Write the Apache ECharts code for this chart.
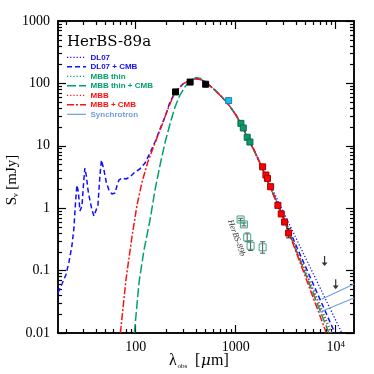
<!DOCTYPE html>
<html><head><meta charset="utf-8">
<script src="https://cdn.jsdelivr.net/npm/echarts@6/dist/echarts.min.js"></script>
<style>html,body{margin:0;padding:0;background:#fff}#c{width:374px;height:374px}</style>
</head><body><div id="c"></div>
<script>
// ---- axis ranges (data units) ----
const xRange = [16.7, 15240];   // wavelength, micron
const yRange = [0.01, 1000];    // flux, mJy
const xMajorTicks = [100, 1000, 10000];
const xMinorTicks = [20,30,40,50,60,70,80,90,200,300,400,500,600,700,800,900,2000,3000,4000,5000,6000,7000,8000,9000];
const yMajorTicks = [0.01, 0.1, 1, 10, 100, 1000];
const yMinorTicks = [0.02,0.03,0.04,0.05,0.06,0.07,0.08,0.09,0.2,0.3,0.4,0.5,0.6,0.7,0.8,0.9,2,3,4,5,6,7,8,9,20,30,40,50,60,70,80,90,200,300,400,500,600,700,800,900];

// ---- model curves [lambda_um, S_mJy] ----
const wienDL07CMB = [[16.7,0.0438],[18.3,0.061],[20.0,0.085],[21.5,0.137],[23.0,0.248],[24.1,0.48],[24.9,1.12],[25.8,2.35],[26.7,1.82],[27.7,0.90],[29.0,1.08],[30.0,2.35],[31.0,4.4],[32.1,3.3],[33.3,1.96],[34.8,1.35],[36.5,0.94],[38.2,0.75],[40.0,0.72],[41.9,1.12],[43.9,3.4],[45.4,5.9],[48.1,4.1],[50.9,2.54],[54.0,1.96],[57.8,1.69],[61.9,1.75],[64.9,2.27],[67.9,2.83],[72.8,3.05],[79.8,2.94],[87.5,3.16],[98.2,3.8],[110,4.25],[124,5.3],[139,7.7],[156,11.5],[175,18.6],[196,29],[220,50],[252,75.5],[297,98],[348,113],[400,120],[459,113]];
const wienMBBCMB = [[70.3,0.01],[79.8,0.0706],[91.6,0.345],[103,1.12],[115,2.54],[132,5.5],[156,11.1],[183,21.5],[210,38.9],[235,60.5],[252,74],[297,98],[348,113],[400,120],[459,113]];
const wienMBBthinCMB = [[97,0.01],[108,0.0656],[121,0.214],[139,0.647],[156,1.96],[175,4.9],[196,11.1],[220,22.3],[247,41.9],[277,65],[310,87.5],[348,109],[400,124],[459,118]];
const peakCurve = [[527,98],[619,78],[728,60.5],[855,45],[1005,31.2],[1153,20.8],[1324,13.3],[1520,8.6],[1746,5.3],[2004,3.16],[2301,1.89],[2642,1.12],[3105,0.60]];
const tailDL07 = [[2004,3.3],[11530,0.01]];
const tailDL07CMB = [[9820,0.01]];
const tailMBBthin = [[9160,0.01]];
const tailMBBthinCMB = [[8550,0.01]];
const tailMBB = [[8900,0.01]];
const tailMBBCMB = [[8070,0.01]];
const synchA = [[7230,0.0347],[15240,0.061]];
const synchB = [[6680,0.0211],[15240,0.0364]];

// ---- photometry ----
const ptsSPIRE = [[250,73],[350,105],[500,97]];
const ptsSCUBA = [[850,53]];
const ptsNOEMA1 = [[1127,22.9],[1190,19.3],[1303,13.7],[1387,11.5]];
const ptsNOEMA2 = [[1858,4.6],[2005,3.4],[2080,3.0],[2234,2.21],[2642,1.11],[2852,0.81],[3080,0.60],[3381,0.40]];
const errNOEMA2 = [[3381,0.335,0.475]];
const ptsB = [[1119,0.66],[1208,0.55],[1303,0.34],[1409,0.25],[1858,0.236]];
const errB = [[1119,0.63,0.69],[1208,0.52,0.58],[1303,0.29,0.40],[1409,0.21,0.30],[1858,0.19,0.29]];
const upperLimits = [[7740,0.171],[10000,0.073]];

// ---- legend entries ----
const legendNames = ['DL07','DL07 + CMB','MBB thin','MBB thin + CMB','MBB','MBB + CMB','Synchrotron'];

const L = Math.log10;
const tr = a => a.map(p => [L(p[0]), L(p[1])]);
const trE = a => a.map(p => [L(p[0]), L(p[1]), L(p[2])]);
const sliceFrom = (lam) => peakCurve.filter(p => p[0] >= lam);

const BLUE = '#1010ff', GREEN = '#00a070', RED = '#ff1010', SYN = '#6f9fdc';
const styles = {
  'DL07': {color:BLUE, dash:[1.2,2], w:1.3},
  'DL07 + CMB': {color:BLUE, dash:[5,3], w:1.5},
  'MBB thin': {color:GREEN, dash:[1.2,2], w:1.3},
  'MBB thin + CMB': {color:GREEN, dash:[9,3], w:1.5},
  'MBB': {color:RED, dash:[1.2,2], w:1.3},
  'MBB + CMB': {color:RED, dash:[7,2,2,2], w:1.5},
  'Synchrotron': {color:SYN, dash:null, w:1.2}
};

const chart = echarts.init(document.getElementById('c'), null, {renderer:'canvas'});

function mkX(pos, major, showLabel) {
  return {
    type:'value', position:pos, min:L(xRange[0]), max:L(xRange[1]),
    axisLine:{show:true, onZero:false, lineStyle:{color:'#000', width:1.5}},
    splitLine:{show:false},
    axisTick:{show:true, inside:true, length: major?8:4, lineStyle:{color:'#000', width:1.2},
      customValues:(major?xMajorTicks:xMinorTicks).map(L)},
    axisLabel:{show:showLabel, customValues:xMajorTicks.map(L), margin:7, color:'#000',
      fontFamily:'Liberation Serif', fontSize:14,
      formatter: v => { const e = Math.round(v); return e >= 4 ? '10{sup|' + e + '}' : String(Math.pow(10,e)); },
      rich:{sup:{fontSize:9, verticalAlign:'top', padding:[0,0,6,0], fontFamily:'Liberation Serif', color:'#000'}}},
  };
}
function mkY(pos, major, showLabel) {
  return {
    type:'value', position:pos, min:L(yRange[0]), max:L(yRange[1]),
    axisLine:{show:true, onZero:false, lineStyle:{color:'#000', width:1.5}},
    splitLine:{show:false},
    axisTick:{show:true, inside:true, length: major?8:4, lineStyle:{color:'#000', width:1.2},
      customValues:(major?yMajorTicks:yMinorTicks).map(L)},
    axisLabel:{show:showLabel, customValues:yMajorTicks.map(L), margin:8, color:'#000',
      fontFamily:'Liberation Serif', fontSize:14,
      formatter: v => { const e = Math.round(v); return e >= 0 ? String(Math.pow(10,e)) : Math.pow(10,e).toFixed(-e); }},
  };
}

const xAxes = [mkX('bottom', true, true), mkX('bottom', false, false), mkX('top', true, false), mkX('top', false, false)];
const yAxes = [mkY('left', true, true), mkY('left', false, false), mkY('right', true, false), mkY('right', false, false)];

const lineS = (name, data) => ({
  name, type:'line', data: tr(data), showSymbol:false, symbol:'none', smooth:false, z:2,
  lineStyle:{color:styles[name].color, type: styles[name].dash || 'solid', width: styles[name].w},
  itemStyle:{color:styles[name].color}, animation:false, clip:true
});

const errSeries = (data, color) => ({
  type:'custom', data: trE(data), z:4, animation:false,
  renderItem:(params, api) => {
    const x = api.value(0);
    const p1 = api.coord([x, api.value(1)]), p2 = api.coord([x, api.value(2)]);
    const st = {stroke: color, lineWidth: 1};
    return {type:'group', children:[
      {type:'line', shape:{x1:p1[0], y1:p1[1], x2:p2[0], y2:p2[1]}, style:st},
      {type:'line', shape:{x1:p1[0]-2.5, y1:p1[1], x2:p1[0]+2.5, y2:p1[1]}, style:st},
      {type:'line', shape:{x1:p2[0]-2.5, y1:p2[1], x2:p2[0]+2.5, y2:p2[1]}, style:st}]};
  }
});

const sq = (data, fill, border, size, z) => ({
  type:'scatter', data: tr(data), symbol:'rect', symbolSize:size||6, z: z||5, animation:false,
  itemStyle:{color:fill, borderColor:border, borderWidth:1, opacity:1}
});

// manual legend (line sample + coloured label)
const legendGraphics = [];
legendNames.forEach((n, i) => {
  const y = 57.3 + i * 9.5;
  const s = styles[n];
  legendGraphics.push({type:'line', shape:{x1:67, y1:y, x2:86, y2:y},
    style:{stroke:s.color, lineWidth:s.w, lineDash:s.dash || null}});
  legendGraphics.push({type:'text', x:90.5, y:y, style:{text:n, fill:s.color, fontFamily:'Liberation Sans',
    fontWeight:'bold', fontSize:8, verticalAlign:'middle', align:'left'}});
});

const option = {
  animation:false,
  grid:{left:58, top:21, right:20, bottom:41, containLabel:false, outerBoundsMode:'none'},
  xAxis: xAxes,
  yAxis: yAxes,
  graphic:[
    {type:'text', left:67, top:35, style:{text:'HerBS-89a', fontFamily:'DejaVu Serif', fontSize:15, fill:'#000'}},
    {type:'text', x:236.5, y:238, rotation:-1.236, style:{text:'HerBS-89b', fontFamily:'Liberation Serif', fontStyle:'italic', fontSize:8.5, fill:'#333', align:'center', verticalAlign:'middle'}},
    // x axis title: λ_obs [μm]
    {type:'text', x:169, y:361, style:{text:'λ', fontFamily:'Liberation Serif', fontSize:16, fill:'#000', verticalAlign:'middle'}},
    {type:'text', x:177.5, y:366, style:{text:'obs', fontFamily:'Liberation Serif', fontSize:7, fill:'#000', verticalAlign:'middle'}},
    {type:'text', x:195, y:361, style:{text:'[', fontFamily:'Liberation Serif', fontSize:16, fill:'#000', verticalAlign:'middle'}},
    {type:'text', x:201, y:361.5, style:{text:'μ', fontFamily:'DejaVu Serif', fontStyle:'italic', fontSize:15, fill:'#000', verticalAlign:'middle'}},
    {type:'text', x:211, y:361, style:{text:'m]', fontFamily:'Liberation Serif', fontSize:16, fill:'#000', verticalAlign:'middle'}},
    // y axis title: S_ν [mJy]
    {type:'text', x:12.5, y:180, rotation:Math.PI/2, style:{text:'{l|S}{s|ν}{l| [mJy]}', align:'center', verticalAlign:'middle',
      rich:{l:{fontSize:15, fontFamily:'Liberation Serif', fill:'#000'}, s:{fontSize:8, fontFamily:'Liberation Serif', fill:'#000', padding:[7,0,0,0]}}}},
    {type:'group', children: legendGraphics}
  ],
  series:[
    lineS('DL07', sliceFrom(1005).filter(p=>p[0]<2004).concat(tailDL07)),
    lineS('DL07 + CMB', wienDL07CMB.concat(sliceFrom(527).filter(p=>p[0]<=2301)).concat(tailDL07CMB)),
    lineS('MBB thin', sliceFrom(1005).filter(p=>p[0]<=2642).concat(tailMBBthin)),
    lineS('MBB thin + CMB', wienMBBthinCMB.concat(sliceFrom(527)).concat(tailMBBthinCMB)),
    lineS('MBB', sliceFrom(1005).filter(p=>p[0]<=2642).concat(tailMBB)),
    lineS('MBB + CMB', wienMBBCMB.concat(sliceFrom(527)).concat(tailMBBCMB)),
    lineS('Synchrotron', synchA),
    lineS('Synchrotron', synchB),
    errSeries(errB, '#555'),
    errSeries(errNOEMA2, '#222'),
    sq(ptsB, 'rgba(0,0,0,0)', '#3aaa85', 7, 5),
    sq(ptsSPIRE, '#000', '#000', 6, 6),
    sq(ptsSCUBA, '#22b8ee', '#1a7fae', 6, 6),
    sq(ptsNOEMA1, '#0a9a6a', '#0b6a48', 6, 6),
    sq(ptsNOEMA2, '#ff0000', '#a00000', 6, 6),
    {type:'scatter', data: tr(upperLimits), symbol:'path://M3.4,0 L4.6,0 L4.6,7 L7,7 L4,11 L1,7 L3.4,7 Z',
     symbolSize:[6,10], symbolOffset:[0,'50%'], z:6, animation:false, itemStyle:{color:'#000'}}
  ]
};
chart.setOption(option);
</script></body></html>
